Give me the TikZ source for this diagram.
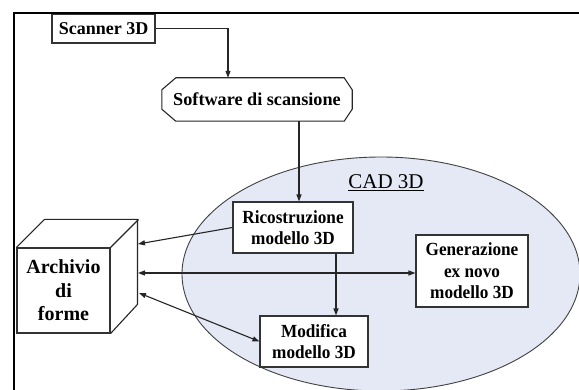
\documentclass[tikz,border=0pt]{standalone}
\usepackage{fontspec}
\setmainfont{Liberation Serif}
\newfontfamily\condserif[FakeStretch=0.93]{Liberation Serif}
\usetikzlibrary{arrows.meta,calc}
\begin{document}
\begin{tikzpicture}[x=1pt,y=-1pt,
  line/.style={draw=black!85, line width=1.1pt},
  arr/.style={line, -{Triangle[length=7pt,width=5pt]}},
  darr/.style={line, {Triangle[length=7pt,width=5pt]}-{Triangle[length=7pt,width=5pt]}},
  box/.style={draw=black!80, line width=1.1pt, fill=white, inner sep=0pt, align=center, font=\condserif\bfseries\fontsize{18.5}{21.5}\selectfont},
]
\useasboundingbox (0,0) rectangle (579,390);
\clip (0,0) rectangle (579,390);
\fill[white] (0,0) rectangle (579,390);
% CAD area
\draw[fill={rgb,255:red,229;green,232;blue,245}, draw=black!75, line width=0.9pt] (381,274) ellipse [x radius=199, y radius=117];
\node[font=\fontsize{21}{24}\selectfont] (cad) at (386,183) {\underline{CAD 3D}};
% nodes
\node[box, minimum width=103, minimum height=29, font=\bfseries\fontsize{18}{20}\selectfont] (scan) at (103.5,28.5) {Scanner 3D};
\node[inner sep=0pt, minimum width=190, minimum height=43, font=\bfseries\fontsize{18.2}{20}\selectfont] (soft) at (257,99.5) {Software di scansione};
\draw[line] ($(soft.north west)+(14,0)$) -- ($(soft.north east)+(-8,0)$) -- ($(soft.north east)+(0,12)$) -- ($(soft.south east)+(0,-12)$) -- ($(soft.south east)+(-8,0)$) -- ($(soft.south west)+(14,0)$) -- ($(soft.south west)+(0,-12)$) -- ($(soft.north west)+(0,12)$) -- cycle;
\node[box, minimum width=120, minimum height=51] (ric) at (293,227.5) {Ricostruzione\\modello 3D};
\node[box, minimum width=112, minimum height=72] (gen) at (472,271) {Generazione\\ex novo\\modello 3D};
\node[box, minimum width=108, minimum height=51] (mod) at (314,341.5) {Modifica\\modello 3D};
% cube
\node[box, minimum width=93, minimum height=85, font=\bfseries\fontsize{20}{23.5}\selectfont] (arch) at (63.5,290.5) {Archivio\\di\\forme};
\draw[line, line join=miter] (arch.north west) -- ++(28,-28) -- ++(93,0) -- ++(0,85) -- (arch.south east);
\draw[line] (arch.north east) -- ++(28,-28);
\coordinate (a1) at (138,244);
\coordinate (a2) at (138,273);
\coordinate (a3) at (139,293);
% connectors
\coordinate (vx1) at (228,0);
\coordinate (vx2) at (299,0);
\coordinate (vx3) at (336,0);
\draw[arr] (scan.east) -| (vx1 |- soft.north);
\draw[arr] (vx2 |- soft.south) -- (vx2 |- ric.north);
\draw[arr] (vx3 |- ric.south) -- (vx3 |- mod.north);
\draw[arr] (ric.west) -- (a1);
\draw[darr] (a2) -- (a2 -| gen.west);
\draw[darr] (a3) -- (mod.west);
% frame
\draw[line width=2.2pt] (14,391) -- (14,13) -- (580,13);
\end{tikzpicture}
\end{document}
